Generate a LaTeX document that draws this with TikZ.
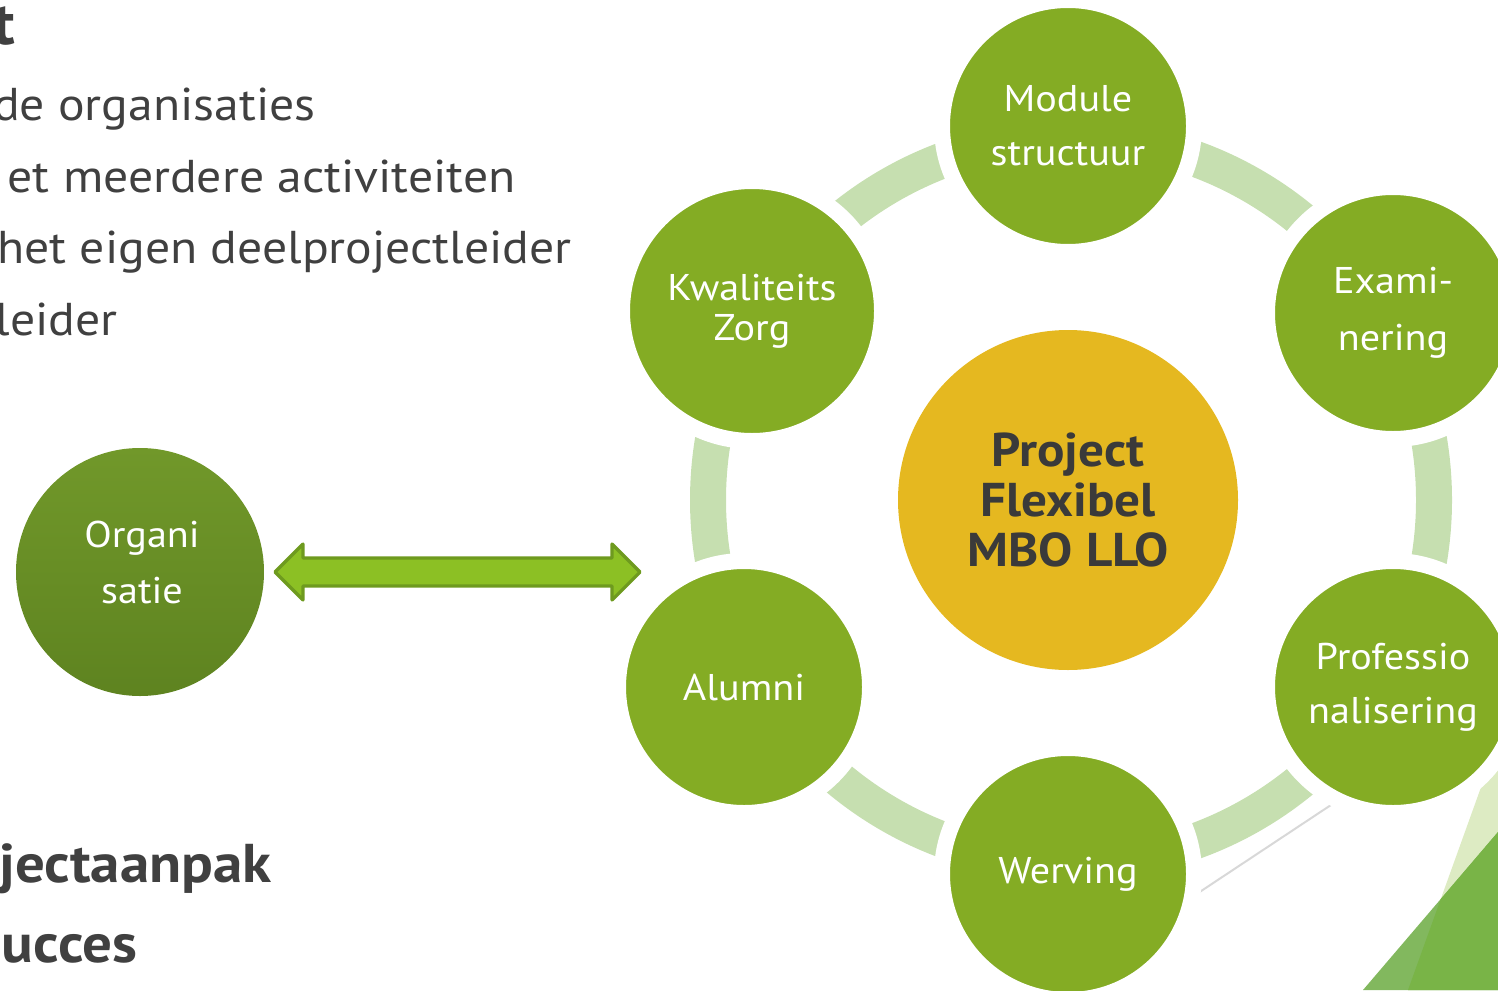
\documentclass[tikz,border=0pt]{standalone}
\usepackage{fontspec}
\setmainfont{PT Sans}[FakeStretch=1.08]
\definecolor{cgreen}{HTML}{84AC24}
\definecolor{ringc}{HTML}{C6DFB0}
\definecolor{cyellow}{HTML}{E5B820}
\definecolor{ctext}{HTML}{404040}
\definecolor{orgtop}{HTML}{71982A}
\definecolor{orgbot}{HTML}{5E8320}
\definecolor{arrfill}{HTML}{8CC024}
\definecolor{arrdraw}{HTML}{6E9A1F}
\definecolor{trilight}{HTML}{DDEBC3}
\definecolor{tridark}{HTML}{82B85E}
\definecolor{tridarker}{HTML}{79B447}
\definecolor{decoline}{HTML}{D8D8D8}
\tikzset{
  bub/.style={circle, fill=cgreen, draw=white, line width=8pt, minimum size=126pt,
    inner sep=0pt, text=white, align=center},
  bubfont/.style={font=\fontsize{18.6}{#1}\selectfont},
  lefttext/.style={anchor=base east, inner sep=0pt, text=ctext, font=\fontsize{23}{27}\selectfont},
  boldtext/.style={anchor=base east, inner sep=0pt, text=ctext, font=\fontsize{27.3}{31}\selectfont\bfseries},
}
\begin{document}
\begin{tikzpicture}[x=0.5pt, y=-0.5pt]
\useasboundingbox (0,0) rectangle (1498,990);
\clip (0,0) rectangle (1498,990);
% background decoration triangles
\fill[trilight] (1498,740) -- (1408,990) -- (1498,990) -- cycle;
\fill[tridark] (1498,832) -- (1363,990) -- (1498,990) -- cycle;
\begin{scope}
  \clip (1498,740) -- (1408,990) -- (1498,990) -- cycle;
  \fill[tridarker] (1498,832) -- (1363,990) -- (1498,990) -- cycle;
\end{scope}
% thin theme line
\coordinate (l1) at (1100,958);
\coordinate (l2) at (1420,746);
\draw[decoline, line width=1pt] (l1) -- (l2);
% ring
\coordinate (c) at (1068,500);
\coordinate (rc) at (1071,500);
\draw[ringc, line width=18pt] (rc) circle[radius=363];
% left text
\node[boldtext, font=\fontsize{30}{34}\selectfont\bfseries] (t0) at (16,45) {t};
\node[lefttext] (t1) at (316,120) {de organisaties};
\node[lefttext] (t2) at (516,192) {et meerdere activiteiten};
\node[lefttext] (t3) at (572,263) {het eigen deelprojectleider};
\node[lefttext] (t4) at (118,335) {leider};
\node[boldtext] (t5) at (272,882) {jectaanpak};
\node[boldtext] (t6) at (138,962) {ucces};
% organisatie
\node[circle, top color=orgtop, bottom color=orgbot, minimum size=124pt, inner sep=0pt] (org) at (140,572) {};
\node[text=white, align=center, bubfont=28, inner sep=0pt] (orgtxt) at (142,562) {Organi\\satie};
% arrow
\draw[arrdraw, fill=arrfill, line width=1.6pt, line join=round]
  (275,572) -- (303,544) -- (303,558) -- (612,558) -- (612,544) -- (640,572)
  -- (612,600) -- (612,586) -- (303,586) -- (303,600) -- cycle;
% center
\node[circle, fill=cyellow, minimum size=170pt, inner sep=0pt, text=ctext!90!black, align=center,
      font=\fontsize{23.7}{25}\selectfont\bfseries] (p) at (c) {Project\\Flexibel\\MBO LLO};
% bubbles
\node[bub, bubfont=27] (mod) at (1068,126) {Module\\structuur};
\node[bub, bubfont=20, minimum size=130pt] (kz) at (752,311) {Kwaliteits\\Zorg};
\node[bub, bubfont=28.5] (ex) at (1393,313) {Exami-\\nering};
\node[bub, bubfont=27] (al) at (744,687) {Alumni};
\node[bub, bubfont=27] (pr) at (1393,687) {Professio\\nalisering};
\node[bub, bubfont=27] (we) at (1068,874) {Werving};
\end{tikzpicture}
\end{document}
